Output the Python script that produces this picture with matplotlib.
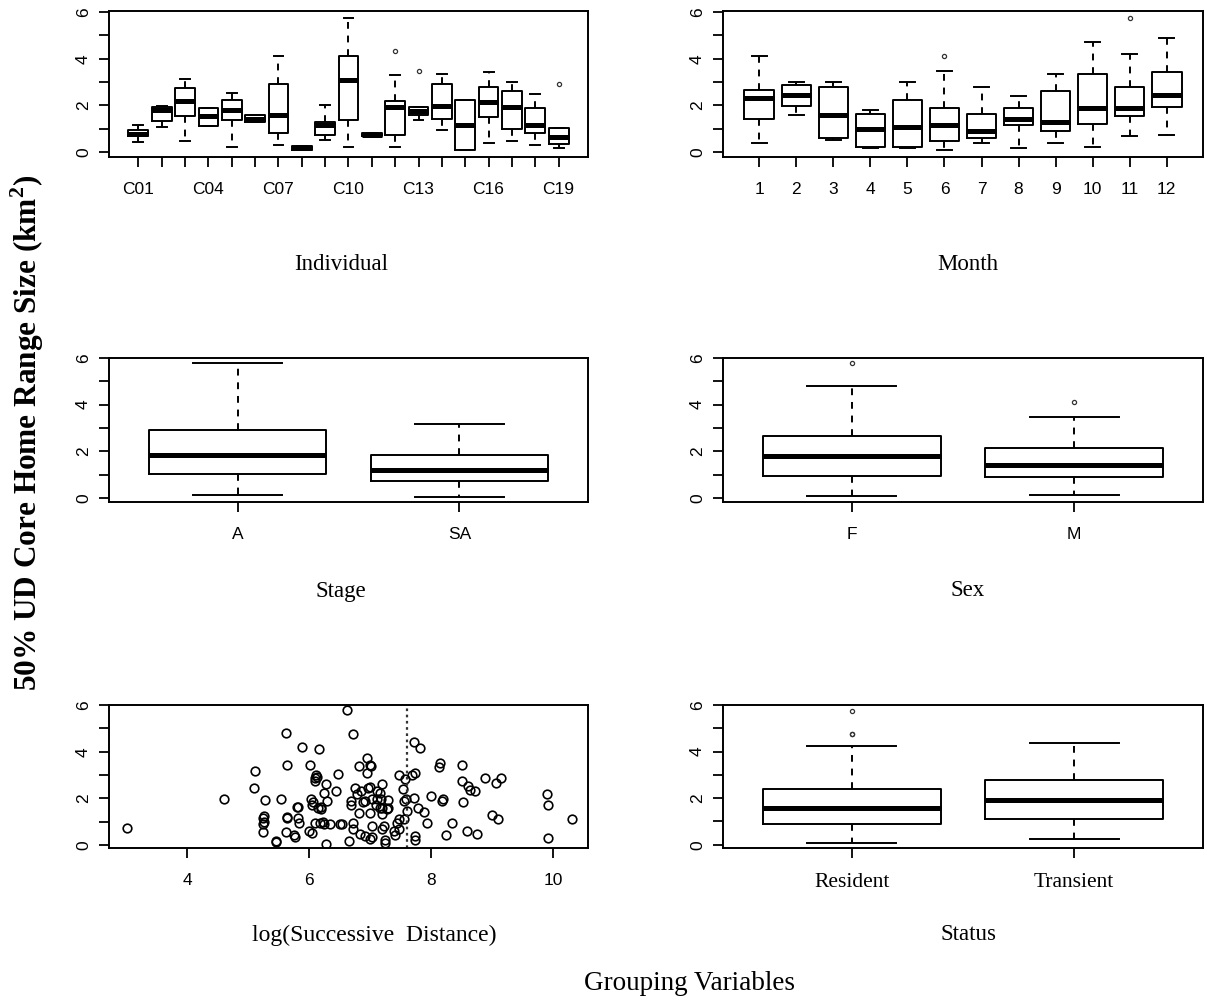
import matplotlib
matplotlib.use("Agg")
import matplotlib.pyplot as plt

# ---------------- data ----------------
individuals = ["C%02d" % i for i in range(1, 20)]
ind_lo = [0.43, 1.08, 0.47, 1.10, 0.22, 1.29, 0.32, 0.10, 0.50, 0.22, 0.67, 0.22, 1.39, 0.93, 0.07, 0.39, 0.47, 0.29, 0.19]
ind_q1 = [0.67, 1.33, 1.55, 1.10, 1.36, 1.29, 0.82, 0.10, 0.75, 1.36, 0.67, 0.75, 1.58, 1.43, 0.07, 1.51, 1.00, 0.82, 0.33]
ind_med = [0.79, 1.79, 2.20, 1.54, 1.82, 1.43, 1.58, 0.19, 1.15, 3.08, 0.75, 1.94, 1.75, 1.97, 1.15, 2.15, 1.94, 1.15, 0.65]
ind_q3 = [0.93, 1.94, 2.73, 1.91, 2.25, 1.58, 2.94, 0.26, 1.29, 4.12, 0.82, 2.20, 1.94, 2.94, 2.25, 2.77, 2.61, 1.91, 1.03]
ind_hi = [1.15, 1.97, 3.13, 1.91, 2.54, 1.58, 4.12, 0.26, 2.00, 5.74, 0.82, 3.30, 1.94, 3.37, 2.25, 3.44, 3.01, 2.47, 1.03]
ind_out = [[], [], [], [], [], [], [], [], [], [], [], [4.33], [3.47], [], [], [], [], [], [2.91]]
ind_ticklabels = ["C01", "", "", "C04", "", "", "C07", "", "", "C10", "", "", "C13", "", "", "C16", "", "", "C19"]

months = [str(m) for m in range(1, 13)]
mon_lo = [0.39, 1.58, 0.53, 0.17, 0.17, 0.10, 0.39, 0.17, 0.39, 0.24, 0.69, 0.75]
mon_q1 = [1.43, 1.97, 0.62, 0.22, 0.22, 0.46, 0.62, 1.15, 0.89, 1.22, 1.55, 1.94]
mon_med = [2.34, 2.44, 1.58, 1.00, 1.08, 1.15, 0.90, 1.43, 1.29, 1.89, 1.89, 2.44]
mon_q3 = [2.68, 2.87, 2.80, 1.65, 2.25, 1.89, 1.65, 1.89, 2.61, 3.37, 2.77, 3.44]
mon_hi = [4.12, 3.01, 3.01, 1.82, 3.01, 3.47, 2.77, 2.40, 3.37, 4.71, 4.20, 4.88]
mon_out = [[], [], [], [], [], [4.12], [], [], [], [], [5.77], []]

stages = ["A", "SA"]
stage_lo = [0.14, 0.04]
stage_q1 = [1.03, 0.71]
stage_med = [1.86, 1.19]
stage_q3 = [2.90, 1.83]
stage_hi = [5.79, 3.19]
stage_out = [[], []]

sexes = ["F", "M"]
sex_lo = [0.07, 0.14]
sex_q1 = [0.96, 0.89]
sex_med = [1.79, 1.40]
sex_q3 = [2.67, 2.14]
sex_hi = [4.81, 3.47]
sex_out = [[5.79], [4.10]]

statuses = ["Resident", "Transient"]
status_lo = [0.09, 0.23]
status_q1 = [0.89, 1.11]
status_med = [1.56, 1.91]
status_q3 = [2.38, 2.77]
status_hi = [4.23, 4.37]
status_out = [[4.77, 4.77, 5.76], []]

log_dist = [3.01, 4.61, 5.09, 5.11, 5.27, 5.26, 5.25, 5.26, 5.25, 5.25, 5.45, 5.46, 5.54, 5.62, 5.64,
            5.63, 5.64, 5.62, 5.75, 5.77, 5.80, 5.82, 5.81, 5.84, 5.88, 6.01, 6.03, 6.06, 6.05, 6.05,
            6.00, 6.09, 6.10, 6.12, 6.13, 6.16, 6.14, 6.19, 6.20, 6.18, 6.09, 6.22, 6.25, 6.28, 6.29,
            6.28, 6.34, 6.24, 6.44, 6.47, 6.51, 6.54, 6.62, 6.72, 6.81, 6.66, 6.69, 6.69, 6.72, 6.72,
            6.75, 6.78, 6.81, 6.85, 6.88, 6.84, 6.91, 6.94, 6.95, 6.99, 7.01, 6.97, 6.99, 6.92, 7.00,
            7.03, 7.03, 7.03, 7.00, 7.09, 7.11, 7.12, 7.16, 7.19, 7.17, 7.16, 7.19, 7.19, 7.19, 7.22,
            7.25, 7.24, 7.30, 7.28, 7.30, 7.39, 7.41, 7.44, 7.47, 7.47, 7.47, 7.53, 7.56, 7.59, 7.60,
            7.56, 7.57, 7.69, 7.74, 7.74, 7.74, 7.72, 7.81, 7.72, 7.78, 7.88, 7.93, 8.00, 8.13, 8.14,
            8.19, 8.18, 8.24, 8.34, 8.50, 8.50, 8.52, 8.58, 8.61, 8.63, 8.72, 8.75, 8.89, 9.00, 9.06,
            9.14, 9.09, 9.89, 9.91, 9.91, 10.30]
core_size = [0.75, 1.99, 2.45, 3.19, 1.95, 1.25, 1.15, 0.99, 0.89, 0.55, 0.18, 0.14, 1.99, 4.82, 3.42,
             1.20, 1.15, 0.55, 0.45, 0.33, 1.65, 1.63, 1.18, 0.95, 4.20, 3.42, 1.96, 1.83, 1.74, 0.51,
             0.61, 2.88, 2.74, 3.02, 2.93, 4.13, 1.60, 1.53, 1.62, 0.96, 0.96, 0.99, 2.24, 2.62, 1.91,
             0.07, 0.89, 0.92, 2.33, 3.04, 0.92, 0.90, 5.78, 4.75, 3.40, 0.16, 1.74, 1.89, 0.68, 0.96,
             2.43, 2.20, 1.39, 2.33, 1.84, 0.47, 0.40, 3.09, 3.72, 3.45, 3.38, 2.45, 1.39, 1.90, 0.26,
             0.82, 0.33, 1.97, 2.47, 1.74, 1.96, 2.31, 2.24, 2.61, 1.97, 1.60, 1.58, 1.32, 0.68, 0.82,
             0.21, 0.11, 1.93, 1.53, 1.60, 0.61, 0.43, 0.96, 0.68, 1.13, 3.02, 2.41, 1.89, 1.96, 1.46,
             1.13, 2.83, 3.02, 3.09, 0.23, 0.40, 4.40, 4.16, 2.03, 1.60, 1.42, 0.96, 2.10, 3.35, 3.50,
             1.99, 1.89, 0.43, 0.96, 3.45, 2.74, 1.84, 0.61, 2.52, 2.38, 2.31, 0.47, 2.88, 1.28, 2.67,
             2.88, 1.13, 2.17, 1.70, 0.30, 1.13]
dist_cutoff = 7.61
dist_ticks = [4, 6, 8, 10]

# ---------------- style ----------------
W, H = 1207, 1000
fig = plt.figure(figsize=(W / 100, H / 100), dpi=100)
SANS = ["Liberation Sans", "DejaVu Sans"]
SERIF = ["Liberation Serif", "DejaVu Serif"]
TICKFS = 12.5
LW = 1.4


def px_axes(x0, y0, x1, y1):
    return fig.add_axes([x0 / W, 1 - y1 / H, (x1 - x0) / W, (y1 - y0) / H])


def style_axes(ax, ylim):
    ax.set_ylim(*ylim)
    ax.set_yticks(range(7))
    ax.set_yticklabels(["0", "", "2", "", "4", "", "6"], rotation=90, va="center",
                       family=SANS, fontsize=TICKFS)
    for s in ax.spines.values():
        s.set_linewidth(LW)
    ax.tick_params(axis="both", direction="out", length=7, width=1.3, color="black")
    ax.tick_params(axis="y", pad=6)
    ax.tick_params(axis="x", pad=11)


def draw_box(ax, lo, q1, med, q3, hi, out, labels, width, xlim, ylim, labelfont=None, labelsize=TICKFS):
    stats = []
    for i in range(len(lo)):
        stats.append(dict(whislo=lo[i], q1=q1[i], med=med[i], q3=q3[i], whishi=hi[i], fliers=out[i]))
    pos = list(range(1, len(lo) + 1))
    ax.bxp(stats, positions=pos, widths=width, capwidths=width * 0.5, manage_ticks=False,
           boxprops=dict(color="black", linewidth=LW),
           medianprops=dict(color="black", linewidth=3.6, solid_capstyle="butt"),
           whiskerprops=dict(color="black", linewidth=LW, linestyle=(0, (3.5, 3.5))),
           capprops=dict(color="black", linewidth=LW),
           flierprops=dict(marker="o", markersize=3, markerfacecolor="none",
                           markeredgecolor="#333333", markeredgewidth=0.9))
    ax.set_xlim(*xlim)
    ax.set_xticks(pos)
    ax.set_xticklabels(labels, family=labelfont or SANS, fontsize=labelsize)
    style_axes(ax, ylim)


# column / row pixel geometry
LX0, LX1 = 109, 588
RX0, RX1 = 723, 1203
ROWS = [(11, 157), (358, 502), (705, 848)]

# Row 1
ax = px_axes(LX0, ROWS[0][0], LX1, ROWS[0][1])
draw_box(ax, ind_lo, ind_q1, ind_med, ind_q3, ind_hi, ind_out, ind_ticklabels, 0.85,
         (-0.26, 20.26), (-0.21, 6.05))
ax = px_axes(RX0, ROWS[0][0], RX1, ROWS[0][1])
draw_box(ax, mon_lo, mon_q1, mon_med, mon_q3, mon_hi, mon_out, months, 0.8,
         (0.02, 12.98), (-0.21, 6.05))

# Row 2
ax = px_axes(LX0, ROWS[1][0], LX1, ROWS[1][1])
draw_box(ax, stage_lo, stage_q1, stage_med, stage_q3, stage_hi, stage_out, stages, 0.8,
         (0.42, 2.58), (-0.17, 6.0))
ax = px_axes(RX0, ROWS[1][0], RX1, ROWS[1][1])
draw_box(ax, sex_lo, sex_q1, sex_med, sex_q3, sex_hi, sex_out, sexes, 0.8,
         (0.42, 2.58), (-0.17, 6.0))

# Row 3 scatter
ax = px_axes(LX0, ROWS[2][0], LX1, ROWS[2][1])
ax.plot(log_dist, core_size, linestyle="none", marker="o", markersize=6.2,
        markerfacecolor="none", markeredgecolor="black", markeredgewidth=1.2)
ax.axvline(dist_cutoff, color="#333333", linestyle=(0, (1.2, 1.6)), linewidth=1.6)
ax.set_xlim(2.72, 10.57)
ax.set_xticks(dist_ticks)
ax.set_xticklabels([str(t) for t in dist_ticks], family=SANS, fontsize=TICKFS)
style_axes(ax, (-0.12, 6.0))

ax = px_axes(RX0, ROWS[2][0], RX1, ROWS[2][1])
draw_box(ax, status_lo, status_q1, status_med, status_q3, status_hi, status_out, statuses, 0.8,
         (0.42, 2.58), (-0.14, 6.0), labelfont=SERIF, labelsize=15.5)

# ---------------- text ----------------
def ftext(x, y, s, **kw):
    fig.text(x / W, 1 - y / H, s, ha="center", va="center", family=SERIF, **kw)

ftext(341, 265, "Individual", fontsize=16.5)
ftext(968, 265, "Month", fontsize=16.5)
ftext(341, 591, "Stage", fontsize=16.5)
ftext(968, 591, "Sex", fontsize=16.5)
ftext(374, 935, "log(Successive  Distance)", fontsize=17)
ftext(968, 935, "Status", fontsize=16.5)
ftext(690, 983, "Grouping Variables", fontsize=19.5)
ftext(27, 433, "50% UD Core Home Range Size (km$^{\\mathregular{2}}$)", fontsize=22.5,
      fontweight="bold", rotation=90)

fig.savefig("out.png", dpi=100, facecolor="white")
